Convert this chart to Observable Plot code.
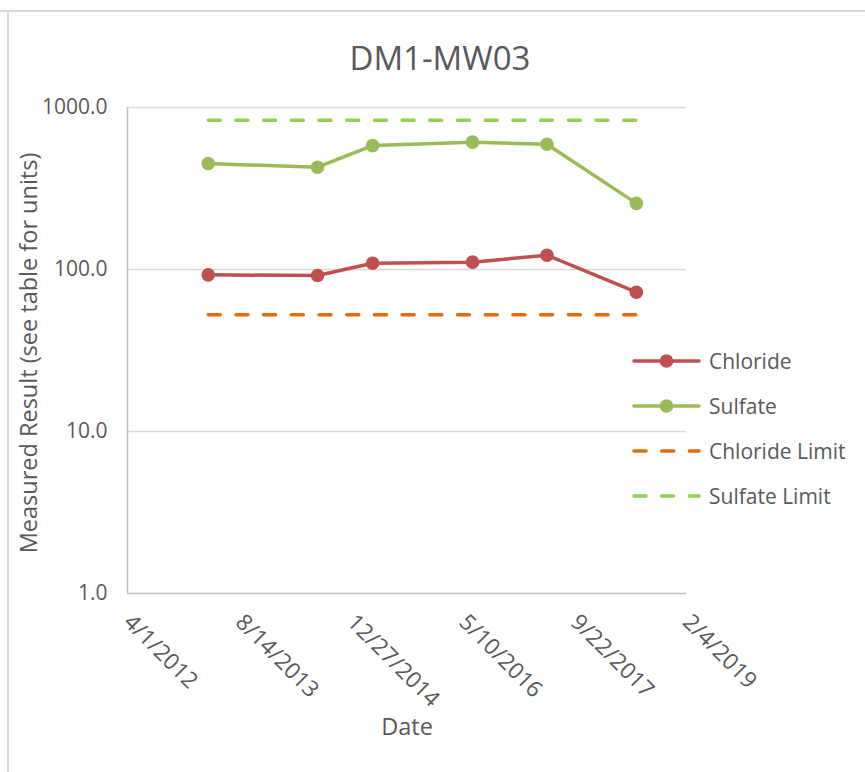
<!DOCTYPE html>
<html>
<head>
<meta charset="utf-8">
<script src="https://cdn.jsdelivr.net/npm/d3@7"></script>
<script src="https://cdn.jsdelivr.net/npm/@observablehq/plot@0.6"></script>
<style>
  html, body { margin: 0; padding: 0; background: #fff; }
  #wrap { position: relative; width: 865px; height: 772px; overflow: hidden; background: #fff; font-family: "Open Sans", sans-serif; }
  #frame { position: absolute; left: 7px; top: 10px; right: -10px; bottom: -10px; border-top: 2px solid #d9d9d9; border-left: 2px solid #d9d9d9; }
  #frameTop { position: absolute; left: 0; top: 10px; width: 865px; height: 0; border-top: 2px solid #d9d9d9; }
  #chart { position: absolute; left: 0; top: 0; }
  #overlay { position: absolute; left: 0; top: 0; pointer-events: none; }
</style>
</head>
<body>
<div id="wrap">
  <div id="frameTop"></div>
  <div id="frame"></div>
  <div id="chart"></div>
  <svg id="overlay" width="865" height="772"></svg>
</div>
<script>
// ---- data ----
const titleText = "DM1-MW03";
const yLabel = "Measured Result (see table for units)";
const xLabel = "Date";
const sampleDates = ["2013-03-28", "2014-07-30", "2015-04-02", "2016-06-22", "2017-05-21", "2018-06-25"];
const chloride = [92.7, 91.8, 109.4, 111, 122.5, 72.4];
const sulfate = [451, 428, 582, 611, 593, 256];
const chlorideLimit = [52.5, 52.5];
const sulfateLimit = [835, 835];
const limitDates = ["2013-03-28", "2018-06-25"];
const xTicks = ["2012-04-01", "2013-08-14", "2014-12-27", "2016-05-10", "2017-09-22", "2019-02-04"];
const yTicks = [1, 10, 100, 1000];
const seriesNames = ["Chloride", "Sulfate", "Chloride Limit", "Sulfate Limit"];
const seriesColors = ["#c0504d", "#9bbb59", "#e36c09", "#92d050"];

// ---- build tables ----
const parse = s => new Date(s + "T00:00:00Z");
const xTickDates = xTicks.map(parse);
const chlorideData = sampleDates.map((d, i) => ({date: parse(d), value: chloride[i]}));
const sulfateData = sampleDates.map((d, i) => ({date: parse(d), value: sulfate[i]}));
const clLimitData = limitDates.map((d, i) => ({date: parse(d), value: chlorideLimit[i]}));
const soLimitData = limitDates.map((d, i) => ({date: parse(d), value: sulfateLimit[i]}));
const fmtDate = d => `${d.getUTCMonth() + 1}/${d.getUTCDate()}/${d.getUTCFullYear()}`;

const textColor = "#595959";
const dash = "12,15.7";

const chart = Plot.plot({
  width: 865,
  height: 772,
  marginTop: 107,
  marginBottom: 179,
  marginLeft: 127,
  marginRight: 179,
  style: {fontFamily: "'Open Sans', sans-serif", fontSize: "21px", color: textColor, background: "transparent", overflow: "visible"},
  x: {type: "utc", domain: [xTickDates[0], xTickDates[xTickDates.length - 1]]},
  y: {type: "log", domain: [1, 1000]},
  marks: [
    Plot.gridY(yTicks.slice(1), {stroke: "#d9d9d9", strokeOpacity: 1, strokeWidth: 1.5}),
    Plot.ruleX([xTickDates[0]], {stroke: "#bfbfbf", strokeWidth: 1.5}),
    Plot.ruleY([yTicks[0]], {stroke: "#bfbfbf", strokeWidth: 1.5}),
    Plot.axisY(yTicks, {
      tickSize: 0, tickPadding: 20, tickFormat: d3.format(".1f"),
      fill: textColor, fontSize: 21,
      label: null
    }),
    Plot.axisX(xTickDates, {
      tickSize: 0, tickPadding: 25, tickRotate: 45, tickFormat: fmtDate,
      fill: textColor, fontSize: 22.5,
      label: null
    }),
    Plot.line(chlorideData, {x: "date", y: "value", stroke: seriesColors[0], strokeWidth: 3.5}),
    Plot.dot(chlorideData, {x: "date", y: "value", fill: seriesColors[0], r: 6.8}),
    Plot.line(sulfateData, {x: "date", y: "value", stroke: seriesColors[1], strokeWidth: 3.5}),
    Plot.dot(sulfateData, {x: "date", y: "value", fill: seriesColors[1], r: 6.8}),
    Plot.line(clLimitData, {x: "date", y: "value", stroke: seriesColors[2], strokeWidth: 3.5, strokeDasharray: dash, strokeLinecap: "round"}),
    Plot.line(soLimitData, {x: "date", y: "value", stroke: seriesColors[3], strokeWidth: 3.5, strokeDasharray: dash, strokeLinecap: "round"})
  ]
});
document.getElementById("chart").appendChild(chart);

// ---- title, axis titles, legend ----
const ov = d3.select("#overlay");
ov.append("text").attr("x", 440).attr("y", 70).attr("text-anchor", "middle")
  .attr("font-family", "'Open Sans', sans-serif").attr("font-size", 33).attr("fill", textColor).text(titleText);
ov.append("text").attr("transform", "translate(37,353) rotate(-90)").attr("text-anchor", "middle")
  .attr("font-family", "'Open Sans', sans-serif").attr("font-size", 23.5).attr("fill", textColor).text(yLabel);
ov.append("text").attr("x", 407).attr("y", 735).attr("text-anchor", "middle")
  .attr("font-family", "'Open Sans', sans-serif").attr("font-size", 23.5).attr("fill", textColor).text(xLabel);

const legendY = [361, 406, 451, 496];
seriesNames.forEach((name, i) => {
  const g = ov.append("g").attr("transform", `translate(0,${legendY[i]})`);
  const ln = g.append("line").attr("x1", 634).attr("x2", 699).attr("y1", 0).attr("y2", 0)
    .attr("stroke", seriesColors[i]).attr("stroke-width", 3.5).attr("stroke-linecap", "round");
  if (i >= 2) ln.attr("stroke-dasharray", "12,15.7").attr("stroke-linecap", "round");
  if (i < 2) g.append("circle").attr("cx", 666.5).attr("cy", 0).attr("r", 6.8).attr("fill", seriesColors[i]);
  g.append("text").attr("x", 709).attr("y", 7.5).attr("font-family", "'Open Sans', sans-serif")
    .attr("font-size", 21).attr("fill", textColor).text(name);
});
</script>
</body>
</html>
